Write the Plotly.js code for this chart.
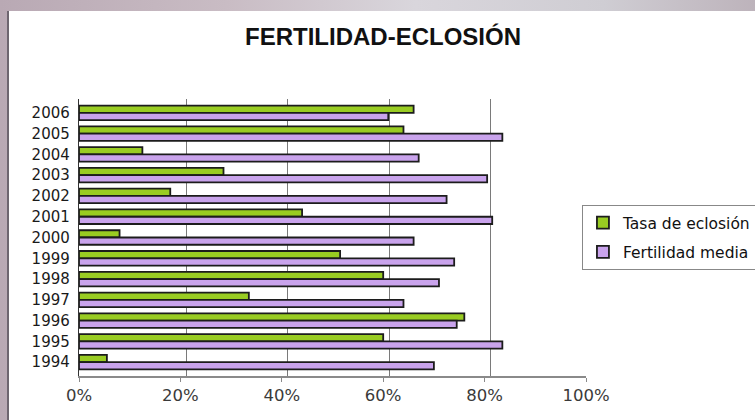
<!DOCTYPE html>
<html>
<head>
<meta charset="utf-8">
<script src="https://cdn.plot.ly/plotly-3.0.1.min.js"></script>
<style>
  html, body { margin: 0; padding: 0; width: 755px; height: 420px; overflow: hidden;
    background: linear-gradient(90deg, #b9a9b4 0%, #c9bcc4 30%, #d9d6dc 55%, #cfcdd3 80%, #bdb3bb 100%); }
  #wrap { position: absolute; left: 7px; top: 11px; width: 748px; height: 409px; background: #ffffff;
    border-left: 2px solid #6e6670; box-sizing: border-box; overflow: hidden; }
  #chart { position: absolute; left: 0; top: 0; width: 800px; height: 409px; }
</style>
</head>
<body>
<div id="wrap"><div id="chart"></div></div>
<script>
const years = ['2006','2005','2004','2003','2002','2001','2000','1999','1998','1997','1996','1995','1994'];
const tasaEclosion = [66, 64, 12.5, 28.5, 18, 44, 8, 51.5, 60, 33.5, 76, 60, 5.5];
const fertilidadMedia = [61, 83.5, 67, 80.5, 72.5, 81.5, 66, 74, 71, 64, 74.5, 83.5, 70];
const seriesNames = ['Tasa de eclosión', 'Fertilidad media'];
const tickVals = [0, 20, 40, 60, 80, 100];
const tickText = ['0%', '20%', '40%', '60%', '80%', '100%'];
const gridVals = [20, 40, 60, 80];

const sans = 'DejaVu Sans, Verdana, sans-serif';
const arial = 'Liberation Sans, Arial, sans-serif';
const data = [
  { type: 'bar', orientation: 'h', name: seriesNames[0], y: years, x: tasaEclosion, legendgroup: 'a',
    marker: { color: '#99cc22', line: { color: '#1c1c1c', width: 1.8 } } },
  { type: 'bar', orientation: 'h', name: seriesNames[1], y: years, x: fertilidadMedia, legendgroup: 'b',
    marker: { color: '#c9a3ec', line: { color: '#1c1c1c', width: 1.8 } } },
  // invisible helper on the back-wall axis so its gridlines are drawn
  { type: 'scatter', mode: 'none', x: tasaEclosion, y: years, xaxis: 'x2', showlegend: false, hoverinfo: 'skip' }
];
const layout = {
  width: 800, height: 409,
  margin: { l: 70, r: 223, t: 88, b: 44 },
  paper_bgcolor: 'rgba(0,0,0,0)', plot_bgcolor: 'rgba(0,0,0,0)',
  barmode: 'group', bargap: 0.3, bargroupgap: 0,
  title: { text: '<b>FERTILIDAD-ECLOSIÓN</b>', x: 374 / 800, xanchor: 'center', y: 0.938, yanchor: 'middle',
    font: { family: arial, size: 24, color: '#111' } },
  xaxis: { range: [0, 100], tickvals: tickVals, ticktext: tickText, showgrid: false,
    zeroline: false, showline: true, linecolor: '#8a8a8a', linewidth: 1.5, ticks: 'outside', ticklen: 4, tickcolor: '#8a8a8a',
    tickfont: { family: sans, size: 16.5, color: '#3a3a3a' }, fixedrange: true },
  xaxis2: { overlaying: 'x', range: [-1.2, 98.8], tickvals: gridVals, showticklabels: false, showgrid: true,
    gridcolor: '#7a7a7a', gridwidth: 1, zeroline: false, showline: false, ticks: '', fixedrange: true },
  yaxis: { type: 'category', autorange: 'reversed', showgrid: false, zeroline: false, showline: true, linecolor: '#333', linewidth: 1.2,
    ticks: '', tickfont: { family: sans, size: 15, color: '#1a1a1a' }, ticklabelstandoff: 5, fixedrange: true },
  legend: { x: 0.992, xanchor: 'left', y: 0.617, yanchor: 'top', bordercolor: '#888', borderwidth: 1,
    font: { family: sans, size: 15.5, color: '#111' }, bgcolor: '#fff', itemwidth: 30, tracegroupgap: 6, traceorder: 'grouped' },
  showlegend: true
};
Plotly.newPlot('chart', data, layout, { displayModeBar: false, staticPlot: true });
</script>
</body>
</html>
